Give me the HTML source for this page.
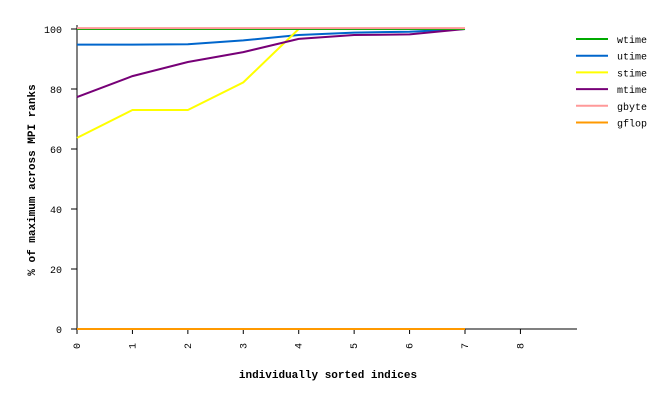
<!DOCTYPE html>
<html><head><meta charset="utf-8"><style>
body{margin:0;background:#fff;}
svg{display:block;font-family:"Liberation Mono","DejaVu Sans Mono",monospace;}
</style></head><body>
<svg id="chart" width="669" height="400" xmlns="http://www.w3.org/2000/svg">
<g id="axes"></g>
<g id="series"></g>
<g id="legend"></g>
<text x="328" y="378" font-size="11" font-weight="bold" text-anchor="middle">individually sorted indices</text>
<text transform="translate(35,180) rotate(-90)" font-size="11" font-weight="bold" text-anchor="middle">% of maximum across MPI ranks</text>
</svg>
<script>
const xTicks=[0,1,2,3,4,5,6,7,8];
const yTicks=[0,20,40,60,80,100];
const seriesNames=["wtime","utime","stime","mtime","gbyte","gflop"];
const seriesColors=["#00aa00","#0066cc","#ffff00","#770077","#ff9999","#ff9900"];
const wtime=[100,100,100,100,100,100,100,100];
const utime=[94.8,94.8,94.9,96.2,98,98.8,99.1,100];
const stime=[63.7,73,73,82.2,100,100,100,100];
const mtime=[77.3,84.3,89,92.3,96.7,98,98.2,100];
const gbyte=[100.3,100.3,100.3,100.3,100.3,100.3,100.3,100.3];
const gflop=[0,0,0,0,0,0,0,0];
const allSeries=[wtime,utime,stime,mtime,gbyte,gflop];
const NS="http://www.w3.org/2000/svg";
const X=v=>77+v*(465-77)/7;
const Y=v=>329-v*3;
function mk(tag,attrs,parent){const e=document.createElementNS(NS,tag);for(const k in attrs)e.setAttribute(k,attrs[k]);parent.appendChild(e);return e;}
const ax=document.getElementById('axes');
let l=mk('line',{x1:77,y1:25,x2:77,y2:329,stroke:'#000'},ax);


l=mk('line',{x1:77,y1:329,x2:577,y2:329,stroke:'#000'},ax);


yTicks.forEach(v=>{
 const t=mk('line',{x1:71,y1:Y(v),x2:77,y2:Y(v),stroke:'#000'},ax);
 
 
 const tx=mk('text',{x:62,y:Y(v)+4,'font-size':10,'text-anchor':'end'},ax);
 tx.textContent=v;
 
 
});
xTicks.forEach(v=>{
 const t=mk('line',{x1:X(v),y1:329,x2:X(v),y2:334,stroke:'#000'},ax);
 
 
 const tx=mk('text',{transform:`translate(${X(v)+3},343) rotate(-90)`,'font-size':10,'text-anchor':'end'},ax);
 tx.textContent=v;
 
 
});
const sg=document.getElementById('series');
const order=[1,2,3,0,4,5];
order.forEach(i=>{
 const pts=allSeries[i].map((v,k)=>X(k)+','+Y(v)).join(' ');
 const p=mk('polyline',{points:pts,fill:'none',stroke:seriesColors[i],'stroke-width':2},sg);
 
 
});
const lg=document.getElementById('legend');
seriesNames.forEach((n,i)=>{
 const y=39+i*16.7;
 const g=mk('g',{},lg);
 
 
 mk('line',{x1:576,y1:y,x2:608,y2:y,stroke:seriesColors[i],'stroke-width':2},g);
 const t=mk('text',{x:617,y:y+4,'font-size':10},g);
 t.textContent=n;
});
</script>
</body></html>
